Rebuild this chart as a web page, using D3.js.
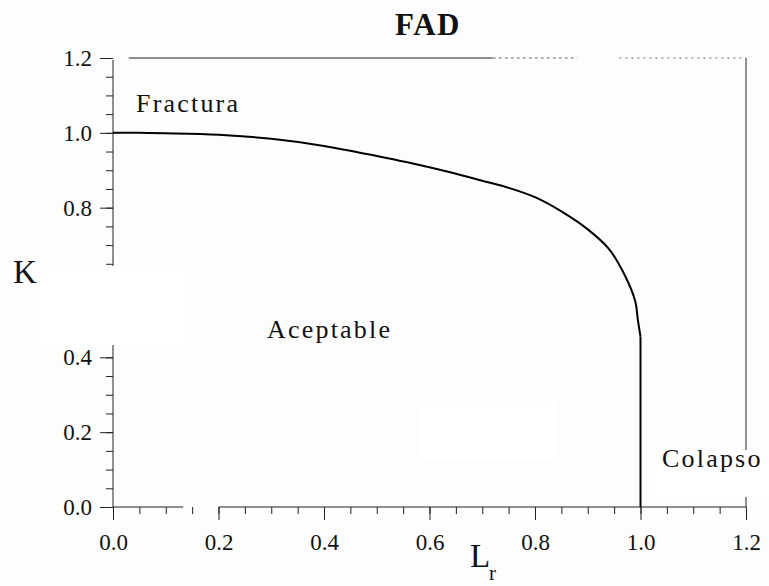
<!DOCTYPE html>
<html>
<head>
<meta charset="utf-8">
<script src="https://cdnjs.cloudflare.com/ajax/libs/d3/7.8.5/d3.min.js"></script>
<style>
  body { margin: 0; background: #fdfdfd; }
  svg { display: block; }
</style>
</head>
<body>
<div class="FAD"></div>
<script>
// curve (Lr, K)
var lr = [0, 0.05, 0.1, 0.2, 0.3, 0.4, 0.5, 0.6, 0.7, 0.75, 0.8, 0.85, 0.9, 0.94, 0.97, 0.99, 0.995, 1.0];
var kr = [1.0, 1.0, 0.999, 0.995, 0.984, 0.965, 0.938, 0.908, 0.872, 0.853, 0.828, 0.79, 0.742, 0.69, 0.62, 0.55, 0.50, 0.455];
var cutoff = 1.0;

var majorTicks = [0, 0.2, 0.4, 0.6, 0.8, 1.0, 1.2];
var minorTicks = d3.range(0, 1.2001, 0.05);

var regions = ["Fractura", "Aceptable", "Colapso"];
var title = "FAD";

var serif = '"Liberation Serif", "DejaVu Serif", serif';
var width = 769, height = 586;

var canvas = d3.select(".FAD").append("svg")
    .attr("width", width)
    .attr("height", height);

var x = d3.scaleLinear().domain([0, 1.2]).range([113, 746]);
var y = d3.scaleLinear().domain([0, 1.2]).range([507, 58]);

// minor ticks
canvas.append("g")
    .attr("transform", "translate(0," + y(0) + ")")
    .call(d3.axisBottom(x).tickValues(minorTicks).tickSize(7).tickFormat(""))
    .call(function(g){ g.select(".domain").remove(); });
canvas.append("g")
    .attr("transform", "translate(" + x(0) + ",0)")
    .call(d3.axisLeft(y).tickValues(minorTicks).tickSize(7).tickFormat(""))
    .call(function(g){ g.select(".domain").remove(); });

// major ticks + labels
canvas.append("g")
    .attr("transform", "translate(0," + y(0) + ")")
    .call(d3.axisBottom(x).tickValues(majorTicks).tickSize(13).tickPadding(14).tickFormat(d3.format(".1f")))
    .call(function(g){ g.select(".domain").remove(); });
canvas.append("g")
    .attr("transform", "translate(" + x(0) + ",0)")
    .call(d3.axisLeft(y).tickValues(majorTicks).tickSize(13).tickPadding(8).tickFormat(d3.format(".1f")))
    .call(function(g){ g.select(".domain").remove(); });

canvas.selectAll(".tick line").attr("stroke", "#222");
canvas.selectAll(".tick text")
    .style("font-family", serif)
    .style("font-size", "23px")
    .attr("fill", "#111");

// frame lines (the scan has broken bits)
var frame = canvas.append("g").attr("stroke", "#222").attr("fill", "none");
frame.append("line").attr("x1", x(0)).attr("x2", x(0)).attr("y1", y(1.2) + 2).attr("y2", y(0));
frame.append("line").attr("x1", x(0)).attr("x2", x(0.133)).attr("y1", y(0)).attr("y2", y(0));
frame.append("line").attr("x1", x(0.2)).attr("x2", x(1.2)).attr("y1", y(0)).attr("y2", y(0));
frame.append("line").attr("x1", x(1.2)).attr("x2", x(1.2)).attr("y1", y(1.2)).attr("y2", y(0));
frame.append("line").attr("x1", x(0.03)).attr("x2", x(0.72)).attr("y1", y(1.2)).attr("y2", y(1.2));
frame.append("line").attr("x1", x(0.72)).attr("x2", x(0.88)).attr("y1", y(1.2)).attr("y2", y(1.2))
    .attr("stroke-dasharray", "3,3").attr("stroke", "#666");
frame.append("line").attr("x1", x(0.96)).attr("x2", x(1.2)).attr("y1", y(1.2)).attr("y2", y(1.2))
    .attr("stroke-dasharray", "2,4").attr("stroke", "#666");

// white patches on the scan
canvas.append("rect").attr("x", 33).attr("y", 266).attr("width", 157).attr("height", 79).attr("fill", "#fff");
canvas.append("rect").attr("x", 421).attr("y", 402).attr("width", 135).attr("height", 58).attr("fill", "#fff");
canvas.append("rect").attr("x", 655).attr("y", 450).attr("width", 114).attr("height", 47).attr("fill", "#fff");

// FAD curve
var pts = lr.map(function(d, i){ return [d, kr[i]]; });
var line = d3.line()
    .x(function(d){ return x(d[0]); })
    .y(function(d){ return y(d[1]); })
    .curve(d3.curveCatmullRom.alpha(0.5));

canvas.append("path")
    .datum(pts)
    .attr("d", line)
    .attr("fill", "none")
    .attr("stroke", "#000")
    .attr("stroke-width", 2);

canvas.append("line")
    .attr("x1", x(cutoff)).attr("x2", x(cutoff))
    .attr("y1", y(kr[kr.length - 1])).attr("y2", y(0))
    .attr("stroke", "#000")
    .attr("stroke-width", 2);

// texts
canvas.append("text")
    .attr("x", 428).attr("y", 35)
    .attr("text-anchor", "middle")
    .style("font-family", serif).style("font-size", "31px").style("font-weight", "bold")
    .attr("letter-spacing", 1.5).attr("fill", "#111")
    .text(title);

var regionPos = [[136, 112], [267, 338], [662, 467]];
canvas.selectAll(".region").data(regions).enter().append("text")
    .attr("class", "region")
    .attr("x", function(d, i){ return regionPos[i][0]; })
    .attr("y", function(d, i){ return regionPos[i][1]; })
    .style("font-family", serif).style("font-size", "26px")
    .attr("letter-spacing", 2.2).attr("fill", "#111")
    .text(function(d){ return d; });

canvas.append("text")
    .attr("x", 13).attr("y", 283)
    .style("font-family", serif).style("font-size", "33px").attr("fill", "#111")
    .text("K");

canvas.append("text")
    .attr("x", 470).attr("y", 567)
    .style("font-family", serif).style("font-size", "33px").attr("fill", "#111")
    .text("L");
canvas.append("text")
    .attr("x", 489).attr("y", 580)
    .style("font-family", serif).style("font-size", "21px").attr("fill", "#111")
    .text("r");
</script>
</body>
</html>
